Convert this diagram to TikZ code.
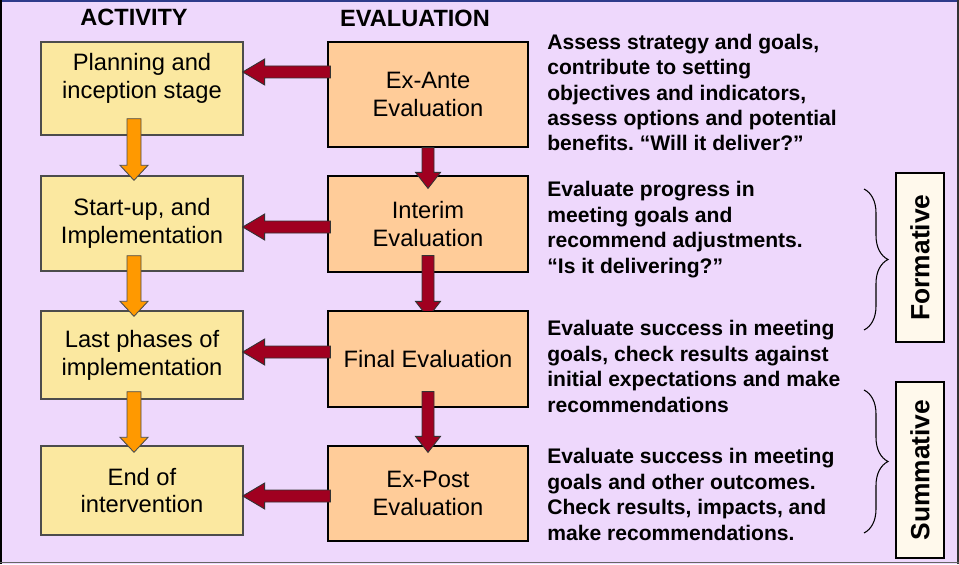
\documentclass[tikz,border=0pt]{standalone}
\usepackage{fontspec}
\setmainfont{Liberation Sans}
\usetikzlibrary{calc, decorations.pathreplacing}

\definecolor{lavender}{RGB}{238,216,252}
\definecolor{actyellow}{RGB}{251,232,160}
\definecolor{evalpeach}{RGB}{255,204,153}
\definecolor{darkred}{RGB}{160,0,32}
\definecolor{amber}{RGB}{255,153,0}
\definecolor{cream}{RGB}{255,249,236}
\definecolor{frameblue}{RGB}{46,59,139}

\newcommand\boxtextfont{\fontsize{13.5}{15.9}\selectfont}
\newcommand\notetextfont{\fontsize{12}{14.5}\selectfont\bfseries}
\newcommand\headtextfont{\fontsize{13.4}{16}\selectfont\bfseries}
\newcommand\phasetextfont{\fontsize{15}{18}\selectfont\bfseries}
\frenchspacing

\tikzset{
  actbox/.style = {draw = black!70, line width = .8pt, fill = actyellow, minimum width = 4.04cm, align = center, font = \boxtextfont},
  evalbox/.style = {draw = black, line width = .7pt, fill = evalpeach, minimum width = 4cm, align = center, font = \boxtextfont},
  note/.style = {anchor = west, align = left, inner sep = 0pt, font = \notetextfont},
  head/.style = {font = \headtextfont},
  phase/.style = {draw = black, line width = .9pt, fill = cream, rotate = 90, minimum height = .96cm, font = \phasetextfont},
  redarrow/.style = {fill = darkred, draw = black!80, line width = .5pt},
  orangearrow/.style = {fill = amber, draw = black!70, line width = .5pt},
  % block arrows: shaft half width, head half width, head length
  down arrow/.style n args = {3}{to path = {
    ($(\tikztostart)+(-#1,0)$) -- ($(\tikztotarget)+(-#1,-#3)$) -- ($(\tikztotarget)+(-#2,-#3)$)
    -- (\tikztotarget) -- ($(\tikztotarget)+(#2,-#3)$) -- ($(\tikztotarget)+(#1,-#3)$) -- ($(\tikztostart)+(#1,0)$) -- cycle}},
  left arrow/.style n args = {3}{to path = {
    ($(\tikztostart)+(0,-#1)$) -- ($(\tikztotarget)+(#3,-#1)$) -- ($(\tikztotarget)+(#3,-#2)$)
    -- (\tikztotarget) -- ($(\tikztotarget)+(#3,#2)$) -- ($(\tikztotarget)+(#3,#1)$) -- ($(\tikztostart)+(0,#1)$) -- cycle}},
  bracket/.style = {draw = black, line width = .6pt, decorate, decoration = {brace, amplitude = .48cm}},
}

\begin{document}
\begin{tikzpicture} [
  x = .02cm,
  y = -.02cm,
]
\useasboundingbox (0, 0) rectangle (959, 564);
\fill [lavender] (0, 0) rectangle (959, 564);
\draw [frameblue, line width = 1.2pt] (0, 1) -- (959, 1);
\draw [black, line width = 1.5pt] (1, 0) -- (1, 564);
\draw [black!80, line width = 1.2pt] (958, 0) -- (958, 564);
\draw [black!60, line width = 1pt] (0, 562.5) -- (959, 562.5);

\node [head] (acthead) at (134, 17) {ACTIVITY};
\node [head] (evalhead) at (415, 18) {EVALUATION};

% activity column
\node [actbox, minimum height = 1.86cm] (plan) at (142, 88.5) {Planning and\\inception stage\\[-2pt]\mbox{}};
\node [actbox, minimum height = 1.9cm] (start) at (142, 223.5) {Start-up, and\\Implementation};
\node [actbox, minimum height = 1.76cm] (last) at (142, 355) {Last phases of\\implementation};
\node [actbox, minimum height = 1.78cm] (endint) at (142, 490.5) {End of\\intervention};

% evaluation column
\node [evalbox, minimum height = 2.1cm] (exante) at (428, 94.5) {Ex-Ante\\Evaluation};
\node [evalbox, minimum height = 1.92cm] (interim) at (428, 224) {Interim\\Evaluation};
\node [evalbox, minimum height = 1.92cm] (final) at (428, 359) {Final Evaluation};
\node [evalbox, minimum height = 1.9cm] (expost) at (428, 493.5) {Ex-Post\\Evaluation};

\node [note] (exantenote) at (547, 92.5) {Assess strategy and goals,\\contribute to setting\\objectives and indicators,\\assess options and potential\\benefits. “Will it deliver?”};
\node [note] (interimnote) at (547, 229.5) {Evaluate progress in\\meeting goals and\\recommend adjustments.\\“Is it delivering?”};
\node [note] (finalnote) at (547, 366.5) {Evaluate success in meeting\\goals, check results against\\initial expectations and make\\recommendations};
\node [note] (expostnote) at (547, 494.5) {Evaluate success in meeting\\goals and other outcomes.\\Check results, impacts, and\\make recommendations.};

\node [phase, minimum width = 3.38cm] (formative) at (920, 257.5) {Formative\hspace{8.5pt}};
\node [phase, minimum width = 3.52cm] (summative) at (920, 470) {Summative\hspace{4pt}};

\coordinate (formtop) at (864, 189);
\coordinate (formbot) at (864, 330);
\coordinate (sumtop) at (864, 390);
\coordinate (sumbot) at (864, 533);
\draw [bracket] (formtop) -- (formbot);
\draw [bracket] (sumtop) -- (sumbot);

% orange arrows down the activity column
\draw [orangearrow, down arrow = {7}{14}{15}] ($(plan.south)+(-8,-17)$) to ($(start.north)+(-8,5)$);
\draw [orangearrow, down arrow = {7}{14}{15}] ($(start.south)+(-8,-16)$) to ($(last.north)+(-8,6)$);
\draw [orangearrow, down arrow = {7}{14}{15}] ($(last.south)+(-8,-8)$) to ($(endint.north)+(-8,7)$);

% red arrows down the evaluation column
\draw [redarrow, down arrow = {6}{12.5}{16}] (exante.south) to ($(interim.north)+(0,13)$);
\begin{scope}
  \clip ($(interim.south west)+(0,-20)$) rectangle (final.north east);
  \draw [redarrow, down arrow = {6}{12.5}{16}] ($(interim.south)+(0,-17)$) to ($(final.north)+(0,7)$);
\end{scope}
\draw [redarrow, down arrow = {6}{12.5}{16}] ($(final.south)+(0,-16)$) to ($(expost.north)+(0,7)$);

% red arrows from evaluation to activity
\draw [redarrow, left arrow = {6}{13}{22}] ($(exante.west |- 0,72)+(3,0)$) to ($(plan.east |- 0,72)+(-1,0)$);
\draw [redarrow, left arrow = {6}{13}{22}] ($(interim.west |- 0,227)+(3,0)$) to ($(start.east |- 0,227)+(-1,0)$);
\draw [redarrow, left arrow = {6}{13}{22}] ($(final.west |- 0,352)+(3,0)$) to ($(last.east |- 0,352)+(-1,0)$);
\draw [redarrow, left arrow = {6}{13}{22}] ($(expost.west |- 0,496)+(3,0)$) to ($(endint.east |- 0,496)+(-1,0)$);
\end{tikzpicture}
\end{document}
